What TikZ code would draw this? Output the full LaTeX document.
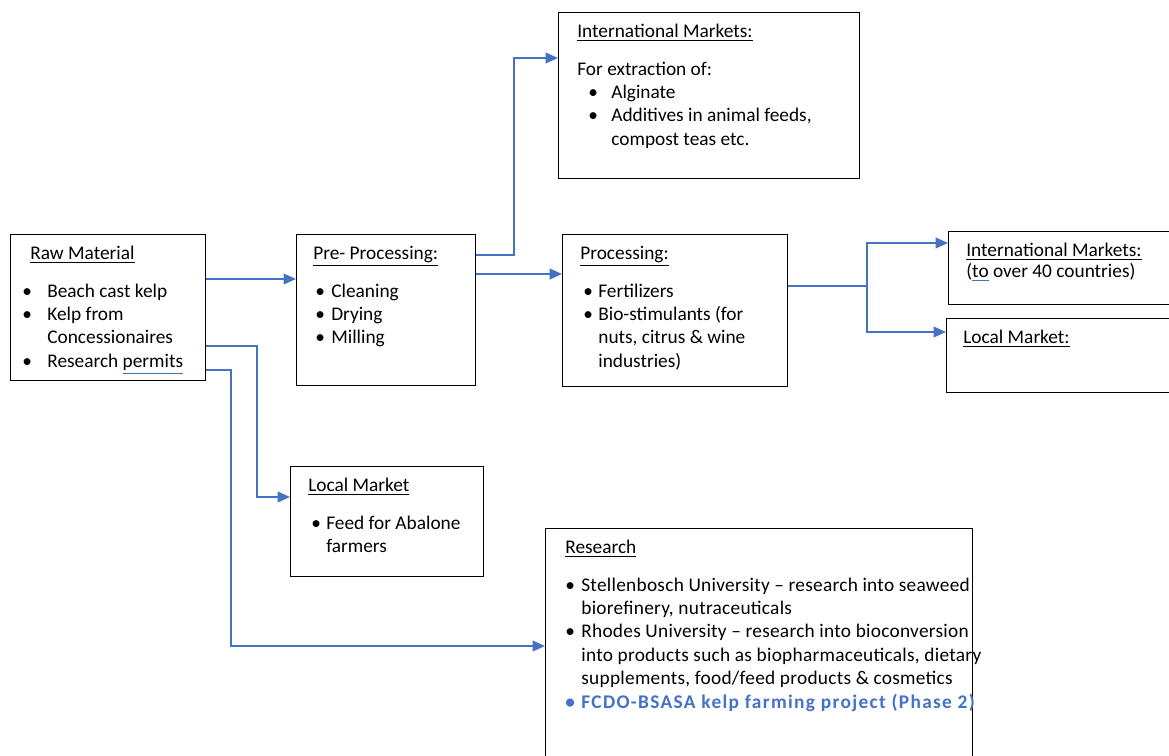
\documentclass[tikz,border=0pt]{standalone}
\usepackage{fontspec}
\setmainfont{Carlito}
\usetikzlibrary{arrows.meta}
\definecolor{wordblue}{RGB}{68,114,196}
\tikzset{
  panel/.style={draw=black, line width=0.8pt, anchor=north west, inner sep=0pt},
  txt/.style={anchor=north west, inner sep=0pt, align=left, font=\fontsize{11}{13.3}\selectfont},
  link/.style={draw=wordblue, line width=1.1pt},
  flow/.style={link, -{Triangle[length=7pt,width=6pt]}},
}
\newcommand{\bl}[1]{\makebox[#1][l]{\textbullet}}
\newcommand{\gram}[1]{{\color{wordblue}\underline{\color{black}#1}}}
\begin{document}
\begin{tikzpicture}[x=0.02cm, y=-0.02cm]
\useasboundingbox (0,0) rectangle (1169,756);
\clip (0,0) rectangle (1169,756);
% boxes
\node[panel, minimum width=3.9cm, minimum height=2.92cm] (raw) at (10,234) {};
\node[panel, minimum width=3.58cm, minimum height=3.02cm] (pre) at (296,234) {};
\node[panel, minimum width=6.02cm, minimum height=3.32cm] (intl) at (558,12) {};
\node[panel, minimum width=4.5cm, minimum height=3.04cm] (proc) at (562,234) {};
\node[panel, minimum width=4.64cm, minimum height=1.46cm] (intlR) at (948,231) {};
\node[panel, minimum width=4.68cm, minimum height=1.48cm] (localR) at (946,318) {};
\node[panel, minimum width=3.86cm, minimum height=2.2cm] (local) at (290,466) {};
\node[panel, minimum width=8.54cm, minimum height=4.8cm] (research) at (545,528) {};
% texts
\node[txt] (rawT) at ([shift={(12,12)}]raw.north west) {\hspace*{0.16cm}\underline{Raw Material}\\[8pt]
  \bl{0.5cm}Beach cast kelp\\
  \bl{0.5cm}Kelp from\\
  \hspace*{0.5cm}Concessionaires\\
  \bl{0.5cm}Research \gram{permits}};
\node[txt] (preT) at ([shift={(17,12)}]pre.north west) {\underline{Pre- Processing:}\\[8pt]
  \hspace*{0.04cm}\bl{0.32cm}Cleaning\\
  \hspace*{0.04cm}\bl{0.32cm}Drying\\
  \hspace*{0.04cm}\bl{0.32cm}Milling};
\node[txt] (intlT) at ([shift={(19,12)}]intl.north west) {\underline{International Markets:}\\[8pt]
  For extraction of:\\
  \hspace*{0.22cm}\bl{0.46cm}Alginate\\
  \hspace*{0.22cm}\bl{0.46cm}Additives in animal feeds,\\
  \hspace*{0.68cm}compost teas etc.};
\node[txt] (procT) at ([shift={(18,12)}]proc.north west) {\underline{Processing:}\\[8pt]
  \hspace*{0.06cm}\bl{0.3cm}Fertilizers\\
  \hspace*{0.06cm}\bl{0.3cm}Bio-stimulants (for\\
  \hspace*{0.36cm}nuts, citrus \& wine\\
  \hspace*{0.36cm}industries)};
\node[txt] (intlRT) at ([shift={(18,12)}]intlR.north west) {\underline{International Markets:}\\[-1.4pt]
  (\gram{to} over 40 countries)};
\node[txt] (localRT) at ([shift={(17,12)}]localR.north west) {\underline{Local Market:}};
\node[txt] (localT) at ([shift={(18,12)}]local.north west) {\underline{Local Market}\\[8pt]
  \hspace*{0.06cm}\bl{0.3cm}Feed for Abalone\\
  \hspace*{0.36cm}farmers};
\node[txt, font=\fontsize{11}{13.3}\selectfont\addfontfeature{LetterSpace=1.4}] (researchT) at ([shift={(20,12)}]research.north west) {{\addfontfeature{LetterSpace=0}\underline{Research}}\\[8pt]
  \bl{0.32cm}Stellenbosch University -- research into seaweed\\
  \hspace*{0.32cm}biorefinery, nutraceuticals\\
  \bl{0.32cm}Rhodes University -- research into bioconversion\\
  \hspace*{0.32cm}into products such as biopharmaceuticals, dietary\\
  \hspace*{0.32cm}supplements, food/feed products \& cosmetics\\
  {\color{wordblue}\bfseries\addfontfeature{LetterSpace=7}\bl{0.32cm}FCDO-BSASA kelp farming project (Phase 2)}};
% connectors
\draw[flow] (raw.east |- 0,279) -- (pre.west |- 0,279);
\draw[flow] (pre.east |- 0,255) -- ++(38,0) |- (intl.west |- 0,58);
\draw[flow] (pre.east |- 0,274) -- (proc.west |- 0,274);
\draw[link] (proc.east |- 0,286) -- ++(79,0) coordinate (split);
\draw[flow] (split) |- (intlR.west |- 0,243);
\draw[flow] (split) |- (localR.west |- 0,332);
\draw[flow] (raw.east |- 0,346) -- ++(51,0) |- (local.west |- 0,497);
\draw[flow] (raw.east |- 0,370) -- ++(25,0) |- (research.west |- 0,646);
\end{tikzpicture}
\end{document}
